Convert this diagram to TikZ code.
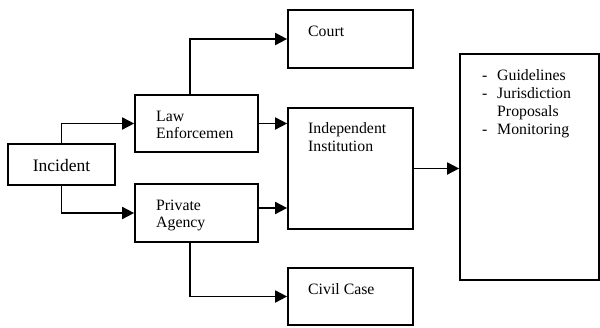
\documentclass[tikz,border=0pt]{standalone}
\usepackage{fontspec}
\setmainfont{Liberation Serif}
\usetikzlibrary{arrows.meta}
\begin{document}
\begin{tikzpicture}[x=1pt,y=-1pt,
  box/.style={draw,line width=1.7pt,minimum width=#1,inner sep=0pt},
  conn/.style={line width=1.8pt,-{Triangle[length=12pt,width=12pt]}},
  txt/.style={anchor=base west,inner sep=0pt,font=\fontsize{15.8}{18}\selectfont}]
\useasboundingbox (0,0) rectangle (600,327);
% boxes
\node[box=107pt,minimum height=41pt] (inc) at (61.5,164.5) {};
\node[box=123pt,minimum height=57pt] (law) at (196.5,123.5) {};
\node[box=123pt,minimum height=58pt] (priv) at (196.5,213) {};
\node[box=125pt,minimum height=58pt] (court) at (350.5,39) {};
\node[box=125pt,minimum height=121pt] (ind) at (350.5,168.5) {};
\node[box=125pt,minimum height=57pt] (civ) at (350.5,296.5) {};
\node[box=139pt,minimum height=226pt] (big) at (529.5,167) {};
% texts
\node[anchor=base,inner sep=0pt,font=\fontsize{17.5}{20}\selectfont] (tinc) at (61.5,171) {Incident};
\node[txt] (tlaw1) at (156,121) {Law};
\node[txt] (tlaw2) at (156,138) {Enforcemen};
\node[txt] (tpriv1) at (156,210) {Private};
\node[txt] (tpriv2) at (156,227) {Agency};
\node[txt] (tcourt) at (308,36) {Court};
\node[txt] (tind1) at (308,133) {Independent};
\node[txt] (tind2) at (308,151) {Institution};
\node[txt] (tciv) at (308,294) {Civil Case};
\node[txt] (d1) at (482,80) {-};
\node[txt] (g1) at (497,80) {Guidelines};
\node[txt] (d2) at (482,98) {-};
\node[txt] (g2) at (497,98) {Jurisdiction};
\node[txt] (g3) at (497,116) {Proposals};
\node[txt] (d4) at (482,134) {-};
\node[txt] (g4) at (497,134) {Monitoring};
% connectors
\draw[conn] (inc.north) |- (law.west);
\draw[conn] (inc.south) |- (priv.west);
\draw[conn] (190,0 |- law.north) |- (court.west);
\draw[conn] (law.east) -- (law.east -| ind.west);
\draw[conn] ([yshift=5pt]priv.east) -- ([yshift=5pt]priv.east -| ind.west);
\draw[conn] (190,0 |- priv.south) |- (civ.west);
\draw[conn] (ind.east) -- (ind.east -| big.west);
\end{tikzpicture}
\end{document}
